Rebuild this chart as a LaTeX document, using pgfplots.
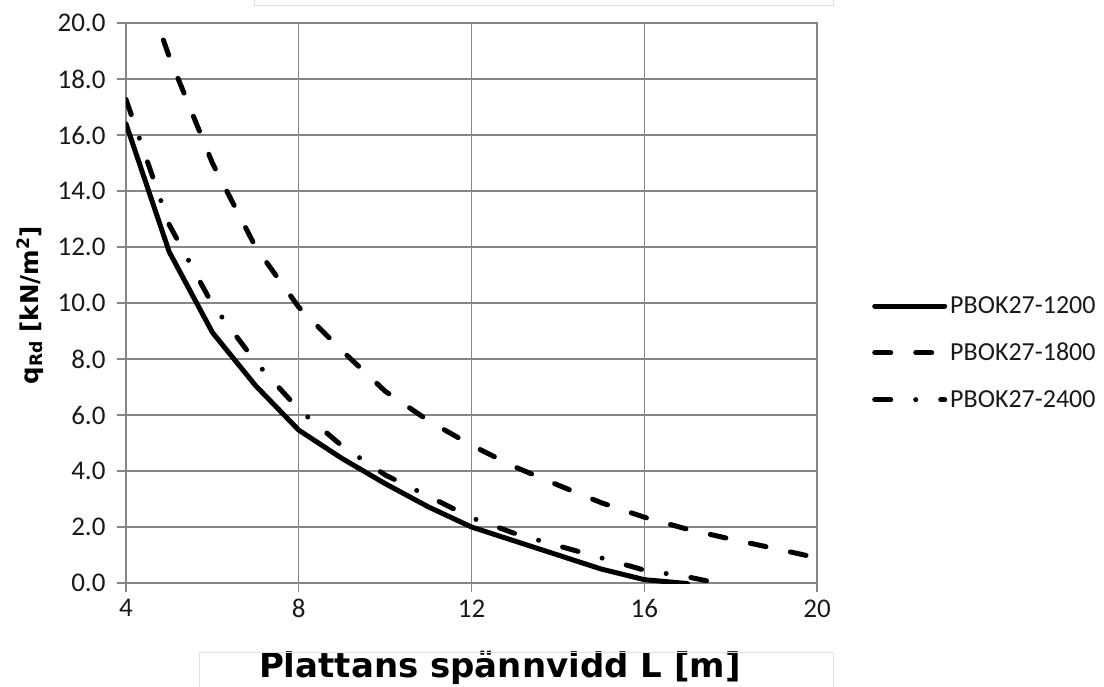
\documentclass[border=0pt]{standalone}
\usepackage{pgfplots}
\pgfplotsset{compat=1.18}
\usepackage{fontspec}
\setmainfont{Carlito}
\newfontfamily\djv{DejaVu Sans}
\definecolor{gridc}{RGB}{134,134,134}
\definecolor{boxc}{RGB}{225,225,225}
\begin{document}
\begin{tikzpicture}[x=1pt,y=1pt]
\useasboundingbox (-126,-103) rectangle (978,583);
\begin{axis}[
  at={(0,0)}, anchor=south west, scale only axis,
  width=691pt, height=560pt,
  xmin=4, xmax=20, ymin=0, ymax=20,
  xtick={4,8,12,16,20}, ytick={0,2,...,20},
  grid=major,
  major grid style={draw=gridc, line width=1.5pt},
  axis line style={draw=gridc, line width=1.5pt},
  tick style={draw=gridc, line width=1.5pt},
  tick align=outside, major tick length=9pt,
  tick pos=left,
  /pgf/number format/assume math mode=true,
  ticklabel style={font=\fontsize{27}{31}\selectfont, text=black!90},
  yticklabel style={/pgf/number format/.cd, fixed, fixed zerofill, precision=1, /tikz/.cd, xshift=-8pt},
  xticklabel style={yshift=-4pt},
  xlabel={Plattans spännvidd L [m]},
  xlabel style={at={(rel axis cs:0.541,-0.152)}, anchor=center, font=\djv\bfseries\fontsize{34}{40}\selectfont},
  ylabel={q\textsubscript{Rd} [kN/m\textsuperscript{2}]},
  ylabel style={at={(rel axis cs:-0.139,0.496)}, anchor=center, rotate=0, font=\djv\bfseries\fontsize{24.5}{28}\selectfont},
  legend style={at={(rel axis cs:1.0796,0.411)}, anchor=west, draw=none, fill=none,
    font=\fontsize{26}{30}\selectfont, text=black!90, row sep=22pt,
    inner sep=0pt, nodes={inner sep=3pt}},
  legend cell align=left,
  legend image code/.code={\draw[#1] (0pt,0pt) -- (70pt,0pt);},
  no markers,
]
\addplot[black, solid, line width=5pt, line cap=round, line join=round] coordinates {(4,16.4) (5,11.83) (6,8.95) (7,7.05) (8,5.46) (9,4.45) (10,3.55) (11,2.72) (12,2.0) (13,1.5) (14,1.0) (15,0.5) (16,0.12) (17,-0.02)};
\addlegendentry{PBOK27-1200}
\addplot[black, line width=5pt, line cap=round, line join=round, dash pattern=on 16pt off 25pt, dash phase=10pt, legend image post style={dash phase=0pt}] coordinates {(4,23.2) (5,18.8) (6,15.0) (7,12.0) (8,9.85) (9,8.3) (10,6.85) (11,5.8) (12,4.92) (13,4.15) (14,3.5) (15,2.87) (16,2.35) (17,1.92) (18,1.57) (19,1.24) (20,0.9)};
\addlegendentry{PBOK27-1800}
\addplot[black, line width=5pt, line cap=round, line join=round, dash pattern=on 16pt off 25pt on 0pt off 25pt] coordinates {(4,17.27) (5,12.8) (6,9.95) (7,7.9) (8,6.2) (9,4.9) (10,3.86) (11,3.1) (12,2.33) (13,1.77) (14,1.33) (15,0.9) (16,0.46) (17,0.22) (18,-0.1)};
\addlegendentry{PBOK27-2400}
\end{axis}
\draw[boxc, line width=1pt] (128,577) rectangle (707,595);
\draw[boxc, line width=1pt] (74,-69) rectangle (707,-115);
\end{tikzpicture}
\end{document}
